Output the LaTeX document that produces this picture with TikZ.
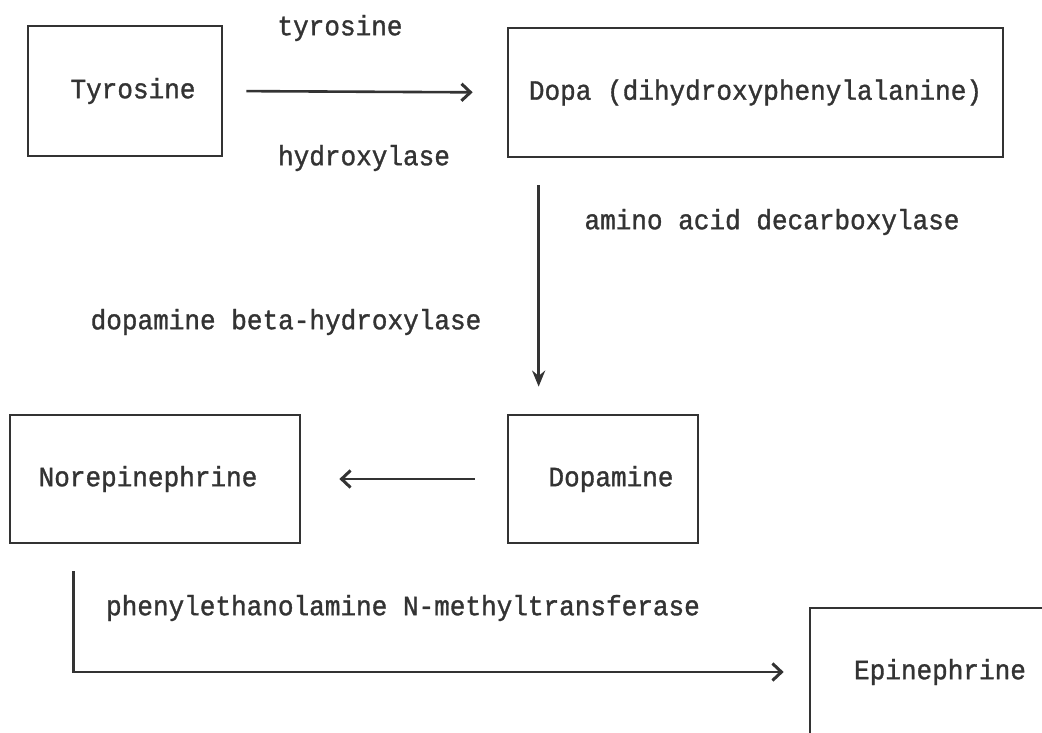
\documentclass[tikz,border=0pt]{standalone}
\usepackage{fontspec}
\setmonofont{Liberation Mono}[FakeStretch=0.93,FakeBold=1.2]
\usetikzlibrary{arrows.meta,calc}
\definecolor{ink}{HTML}{333333}
\begin{document}
\begin{tikzpicture}[x=1pt,y=-1pt,
  every node/.style={font=\ttfamily\fontsize{28}{32}\selectfont, text=ink},
  box/.style={draw=ink, line width=2.7pt, inner sep=0pt},
  lbl/.style={inner sep=0pt},
  conn/.style={draw=ink, line width=2.6pt},
  barb/.style={-{Straight Barb[length=9pt,width=17pt,line width=3pt]}},
  solid tip/.style={-{Stealth[length=16pt,width=13pt]}}]
\useasboundingbox (0,0) rectangle (1042,733);
\begin{scope}
\clip (0,0) rectangle (1042,733);
\node[box, minimum width=194pt, minimum height=130pt] (tyr) at (125,91) {\hspace*{16pt}Tyrosine};
\node[box, minimum width=495pt, minimum height=129pt] (dopa) at (755.5,92.5) {Dopa (dihydroxyphenylalanine)};
\node[box, minimum width=290pt, minimum height=128pt] (nore) at (155,479) {Norepinephrine\hspace*{14pt}};
\node[box, minimum width=190pt, minimum height=128pt] (dopamine) at (603,479) {\hspace*{16pt}Dopamine};
\node[box, minimum width=260pt, minimum height=128pt] (epi) at (940,672) {Epinephrine};

\node[lbl] (l1) at (340,28) {tyrosine};
\node[lbl] (l2) at (364,158) {hydroxylase};
\node[lbl] (l3) at (772,222) {amino acid decarboxylase};
\node[lbl] (l4) at (286,322) {dopamine beta-hydroxylase};
\node[lbl] (l5) at (403,608) {phenylethanolamine N-methyltransferase};

\draw[conn, barb, shorten <=23pt, shorten >=34pt] (tyr.east) -- (dopa.west);
\draw[conn, solid tip] ($(dopa.south west)+(32,27)$) -- ($(dopamine.north west)+(32,-27)$);
\draw[conn, barb, shorten <=32pt, shorten >=38pt] (dopamine.west) -- (nore.east);
\coordinate (nstart) at ($(nore.south west)+(65,27)$);
\draw[conn, barb, shorten >=25pt] (nstart) |- (epi.west);
\end{scope}
\end{tikzpicture}
\end{document}
